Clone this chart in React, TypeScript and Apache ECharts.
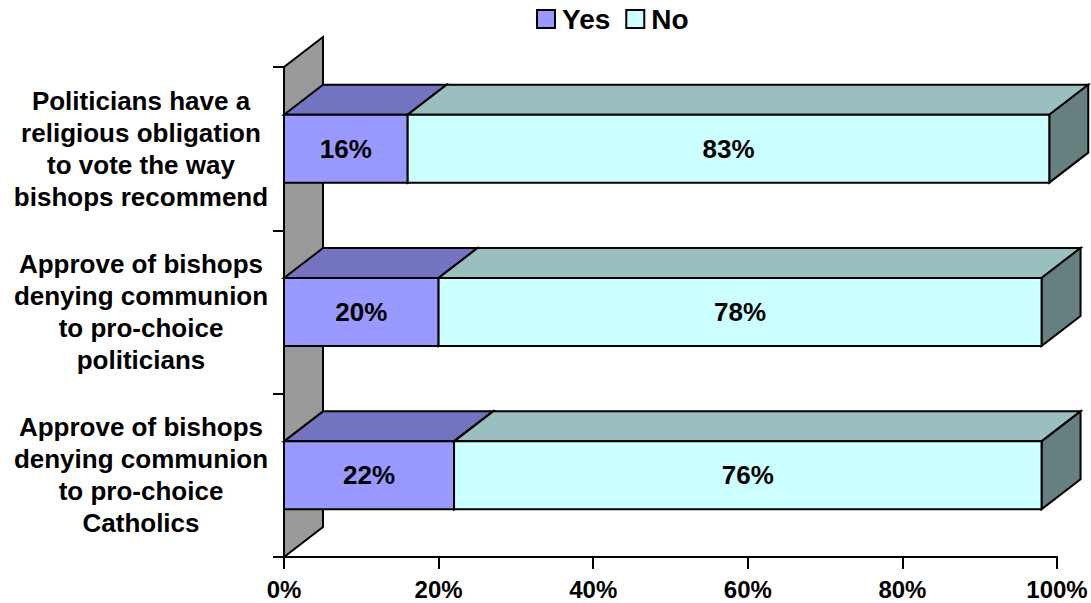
import React, { useEffect, useRef } from "react";
import * as echarts from "echarts";

const categories = [
  "Politicians have a\nreligious obligation\nto vote the way\nbishops recommend",
  "Approve of bishops\ndenying communion\nto pro-choice\npoliticians",
  "Approve of bishops\ndenying communion\nto pro-choice\nCatholics",
];
const yesValues = [16, 20, 22];
const noValues = [83, 78, 76];
const xTicks = { min: 0, max: 100, interval: 20 };

const DX = 39;
const DY = -30;
const BAR_FRAC = 0.416;
const FONT = "'Liberation Sans', Arial, sans-serif";

const YES = { front: "#9999FF", top: "#7373BF", side: "#4D4D80" };
const NO = { front: "#CCFFFF", top: "#99BFBF", side: "#668080" };

function makeBarRender(colors: { front: string; top: string; side: string }) {
  return (params: any, api: any) => {
    const start = api.value(0);
    const end = api.value(1);
    const cat = api.value(2);
    const pStart = api.coord([start, cat]);
    const pEnd = api.coord([end, cat]);
    const band = api.size([0, 1])[1];
    const h = band * BAR_FRAC;
    const x0 = pStart[0];
    const x1 = pEnd[0];
    const t = pStart[1] - h / 2;
    const b = pStart[1] + h / 2;
    const stroke = { stroke: "#000", lineWidth: 2, lineJoin: "miter" };
    return {
      type: "group",
      children: [
        {
          type: "polygon",
          shape: { points: [[x0, t], [x1, t], [x1 + DX, t + DY], [x0 + DX, t + DY]] },
          style: { fill: colors.top, ...stroke },
        },
        {
          type: "polygon",
          shape: { points: [[x1, t], [x1 + DX, t + DY], [x1 + DX, b + DY], [x1, b]] },
          style: { fill: colors.side, ...stroke },
        },
        {
          type: "rect",
          shape: { x: x0, y: t, width: x1 - x0, height: b - t },
          style: { fill: colors.front, ...stroke },
        },
        {
          type: "text",
          x: (x0 + x1) / 2,
          y: (t + b) / 2,
          style: {
            text: `${end - start}%`,
            fill: "#000",
            font: `bold 26px ${FONT}`,
            align: "center",
            verticalAlign: "middle",
          },
        },
      ],
    };
  };
}

export default function App() {
  const ref = useRef<HTMLDivElement>(null);
  useEffect(() => {
    if (!ref.current) return;
    const chart = echarts.init(ref.current, undefined, { renderer: "svg" });
    const yesData = yesValues.map((v, i) => [0, v, i]);
    const noData = noValues.map((v, i) => [yesValues[i], yesValues[i] + v, i]);
    chart.setOption({
      animation: false,
      textStyle: { fontFamily: FONT },
      legend: {
        left: 536,
        top: 5,
        padding: 0,
        itemWidth: 18,
        itemHeight: 18,
        itemGap: 15,
        icon: "rect",
        textStyle: {
          fontSize: 28,
          fontWeight: "bold",
          color: "#000",
          fontFamily: FONT,
          padding: [0, 0, 0, 2],
        },
        data: ["Yes", "No"],
      },
      grid: { left: 284, right: 34, top: 67, bottom: 46 },
      xAxis: {
        type: "value",
        min: xTicks.min,
        max: xTicks.max,
        interval: xTicks.interval,
        splitLine: { show: false },
        axisLine: { show: true, lineStyle: { color: "#000", width: 2 } },
        axisTick: { show: true, length: 12, lineStyle: { color: "#000", width: 2 } },
        axisLabel: {
          formatter: "{value}%",
          fontSize: 24,
          fontWeight: "bold",
          color: "#000",
          margin: 20,
          fontFamily: FONT,
        },
      },
      yAxis: {
        type: "category",
        inverse: true,
        data: categories,
        axisLine: { show: true, lineStyle: { color: "#000", width: 2 } },
        axisTick: { show: true, length: 11, lineStyle: { color: "#000", width: 2 } },
        axisLabel: {
          interval: 0,
          fontSize: 26,
          fontWeight: "bold",
          color: "#000",
          lineHeight: 32,
          align: "center",
          margin: 143,
          fontFamily: FONT,
        },
      },
      series: [
        {
          type: "custom",
          name: "wall",
          clip: false,
          silent: true,
          data: [[0, 0, 0]],
          encode: { x: 0, y: 2 },
          renderItem: (params: any) => {
            const cs = params.coordSys;
            const x = cs.x;
            const y = cs.y;
            const h = cs.height;
            return {
              type: "polygon",
              shape: { points: [[x, y], [x + DX, y + DY], [x + DX, y + h + DY], [x, y + h]] },
              style: { fill: "#999999", stroke: "#000", lineWidth: 2 },
            };
          },
          z: 1,
        },
        {
          type: "custom",
          name: "Yes",
          clip: false,
          itemStyle: { color: YES.front, borderColor: "#000", borderWidth: 1.5 },
          data: yesData,
          encode: { x: [0, 1], y: 2 },
          renderItem: makeBarRender(YES),
          z: 3,
        },
        {
          type: "custom",
          name: "No",
          clip: false,
          itemStyle: { color: NO.front, borderColor: "#000", borderWidth: 1.5 },
          data: noData,
          encode: { x: [0, 1], y: 2 },
          renderItem: makeBarRender(NO),
          z: 3,
        },
      ],
    });
    return () => chart.dispose();
  }, []);
  return (
    <div
      ref={ref}
      style={{ position: "absolute", left: 0, top: 0, width: 1091, height: 603 }}
    />
  );
}
